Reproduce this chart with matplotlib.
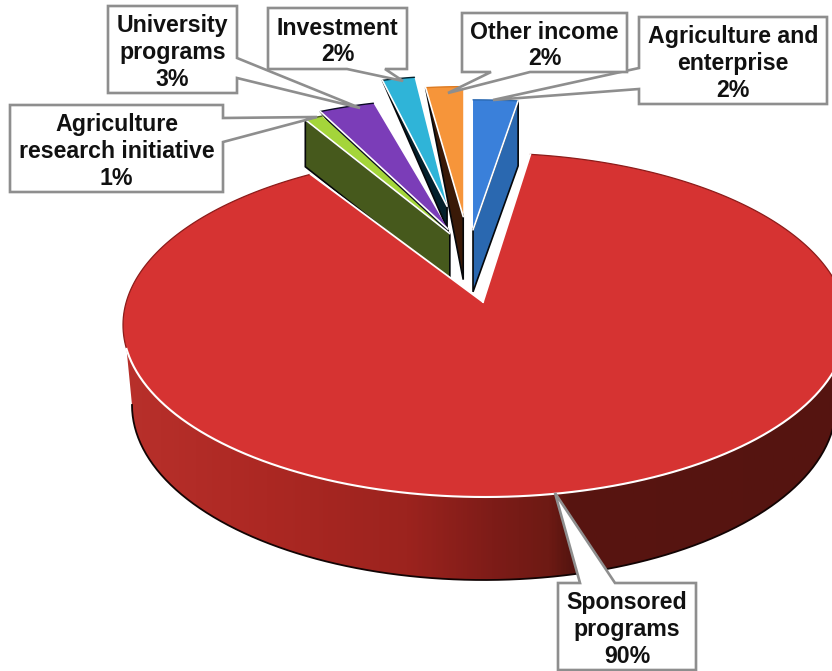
import numpy as np
import matplotlib
matplotlib.use('Agg')
import matplotlib.pyplot as plt
from matplotlib.colors import LinearSegmentedColormap
from matplotlib.patches import Polygon

# revenue share per source, clockwise from 12 o'clock
categories = ['Agriculture and\nenterprise', 'Sponsored\nprograms',
              'Agriculture\nresearch initiative', 'University\nprograms',
              'Investment', 'Other income']
values = [2, 90, 1, 3, 2, 2]

top_colors = ['#3a80da', '#d63332', '#a4d53a', '#7b3db8', '#2fb4d8', '#f6953a']
wall_colors = ['#2a68b0', '#8a1f1b', '#46591c', '#0a0a24', '#04202c', '#3a1a08']

# pie geometry in pixels
CX, CY, RX, RY = 485, 325, 362, 172
BASE_CX, BASE_CY, BASE_RX, BASE_RY = 484, 405, 352, 175
APEX = (483, 302)

# pulled-out slices: centre, radii and explode factors by category
PULL_C = (470, 290)
PULL_RX = {0: 360, 2: 300, 3: 300, 4: 260, 5: 300}
PULL_RY = 130
EXPLODE = {0: (0.4, 0.41), 2: (0.37, 0.43), 3: (0.54, 0.44), 4: (1.02, 0.58), 5: (0.9, 0.5)}
# wall depth at the rim and at the tip
DEPTH = {0: (65, 62), 2: (47, 47), 3: (0, 40), 4: (0, 22), 5: (0, 63)}

# callouts: box (x0, y0, x1, y1), side of the pointer, pointer base, tip
CALLOUTS = {
    0: ((639, 17, 827, 104), 'left', (68, 89), (493, 100)),
    1: ((558, 583, 696, 670), 'top', (580, 615), (555, 493)),
    2: ((10, 105, 223, 192), 'right', (118, 142), (317, 117)),
    3: ((108, 6, 237, 93), 'right', (58, 78), (360, 108)),
    4: ((268, 8, 407, 69), 'bottom', (385, 347), (403, 81)),
    5: ((462, 13, 627, 72), 'bottom', (530, 491), (448, 93)),
}

plt.rcParams['font.family'] = ['Liberation Sans', 'DejaVu Sans']

fig = plt.figure(figsize=(8.32, 6.71), dpi=100)
ax = fig.add_axes([0, 0, 1, 1])
ax.set_xlim(0, 832)
ax.set_ylim(671, 0)
ax.axis('off')

# slice limits in degrees
edges = np.concatenate([[0], np.cumsum(values) * 3.6])
spans = list(zip(edges[:-1], edges[1:]))


def rim(phi, cx=CX, cy=CY, rx=RX, ry=RY):
    phi = np.radians(phi)
    return np.column_stack([cx + rx * np.sin(phi), cy - ry * np.cos(phi)])


def outline(pts, color, lw):
    ax.plot(pts[:, 0], pts[:, 1], color=color, lw=lw, solid_capstyle='round')


def pulled_slice(i):
    a0, a1 = spans[i]
    mid = np.radians((a0 + a1) / 2)
    ex, ey = EXPLODE[i]
    ox = PULL_C[0] + ex * 120 * np.sin(mid)
    oy = PULL_C[1] - ey * 147 * np.cos(mid)
    arc = rim(np.linspace(a0, a1, 12), ox, oy, PULL_RX[i], PULL_RY)
    return np.array([ox, oy]), arc


def draw_wall(i):
    tip, arc = pulled_slice(i)
    # blue shows its right cut face, the others show their left one
    corner = arc[-1] if i == 0 else arc[0]
    d_rim, d_tip = DEPTH[i]
    pts = [corner, tip, tip + [0, d_tip], corner + [0, d_rim]]
    ax.add_patch(Polygon(pts, closed=True, fc=wall_colors[i], ec='#05070a', lw=1.2))


def draw_top(i):
    tip, arc = pulled_slice(i)
    ax.add_patch(Polygon(np.vstack([tip, arc]), closed=True, fc=top_colors[i], ec='none'))
    outline(arc, wall_colors[i] if i != 5 else '#dd7a20', 1.0)
    corner = arc[-1] if i == 0 else arc[0]
    outline(np.array([corner, tip]), 'white', 1.2)


for i in [4, 5]:
    draw_wall(i)
draw_top(5)
draw_top(4)
draw_wall(3)
draw_top(3)
draw_wall(2)
draw_top(2)
draw_wall(0)
draw_top(0)

# side wall of the large slice, shaded left to right
wall_cmap = LinearSegmentedColormap.from_list('wall', [
    (0.0, '#b8302b'), (0.2, '#ac2823'), (0.4, '#9c231e'), (0.52, '#7e1c18'),
    (0.6, '#6e1a14'), (0.63, '#581510'), (1.0, '#551410')])
base = rim(np.linspace(270, 90, 200), BASE_CX, BASE_CY, BASE_RX, BASE_RY)
front = rim(np.linspace(90, 262, 200))
wall_poly = Polygon(np.vstack([base, front]), closed=True, fc='none', ec='none')
ax.add_patch(wall_poly)
shade = ax.imshow(np.linspace(0, 1, 400)[None, :], cmap=wall_cmap, aspect='auto',
                  extent=(123, 832, 671, 0), zorder=1.5)
shade.set_clip_path(wall_poly)
ax.set_xlim(0, 832)
ax.set_ylim(671, 0)
ax.plot(base[:, 0], base[:, 1], color='#120404', lw=1.3, zorder=1.6)

# top face of the large slice
a0, a1 = spans[1]
arc = rim(np.linspace(a0, a1, 400))
ax.add_patch(Polygon(np.vstack([APEX, arc]), closed=True, fc=top_colors[1], ec='none', zorder=2))
for seg in (rim(np.linspace(a0, 100, 100)), rim(np.linspace(262, a1, 60))):
    ax.plot(seg[:, 0], seg[:, 1], color='#8c1c1a', lw=0.9, zorder=2.1)
ax.plot(front[:, 0], front[:, 1], color='white', lw=1.5, zorder=2.2)
for corner in (arc[0], arc[-1]):
    ax.plot([corner[0], APEX[0]], [corner[1], APEX[1]], color='white', lw=1.3, zorder=2.2)


def callout(box, side, base_pts, tip):
    x0, y0, x1, y1 = box
    p, q = base_pts
    if side == 'left':
        pts = [(x0, y0), (x1, y0), (x1, y1), (x0, y1), (x0, q), tip, (x0, p)]
    elif side == 'right':
        pts = [(x0, y0), (x1, y0), (x1, p), tip, (x1, q), (x1, y1), (x0, y1)]
    elif side == 'bottom':
        pts = [(x0, y0), (x1, y0), (x1, y1), (p, y1), tip, (q, y1), (x0, y1)]
    else:
        pts = [(x0, y0), (p, y0), tip, (q, y0), (x1, y0), (x1, y1), (x0, y1)]
    ax.add_patch(Polygon(pts, closed=True, fc='white', ec='#8e8e8e', lw=1.9,
                         joinstyle='miter', zorder=3))


for i in [0, 1, 2, 3, 4, 5]:
    box, side, base_pts, tip = CALLOUTS[i]
    callout(box, side, base_pts, tip)
    ax.text((box[0] + box[2]) / 2, (box[1] + box[3]) / 2 + 3, f'{categories[i]}\n{values[i]}%',
            ha='center', va='center', fontsize=16.7, fontweight='bold', color='#111111',
            linespacing=1.2, zorder=4)

fig.savefig('out.png', dpi=100, facecolor='white')
